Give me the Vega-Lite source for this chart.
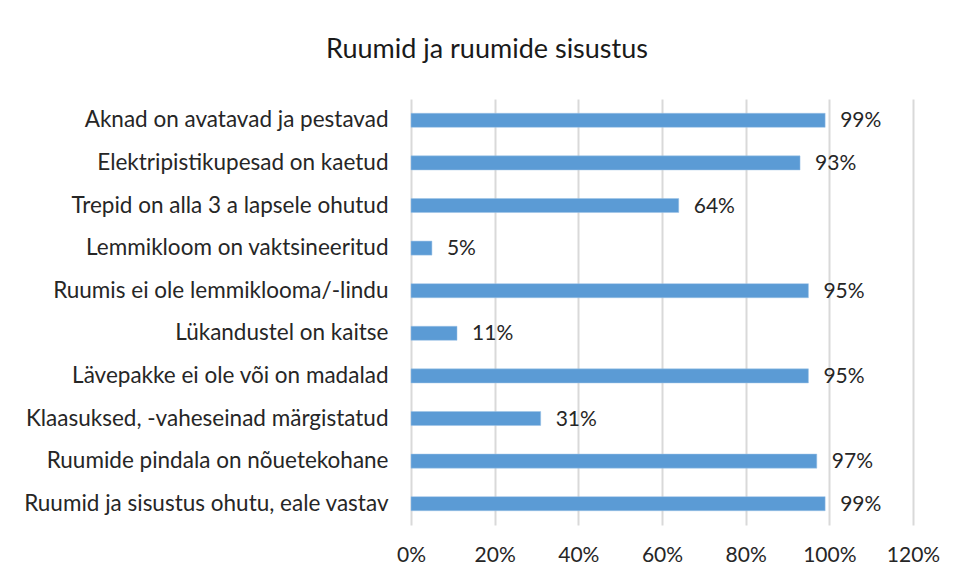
{
  "$schema": "https://vega.github.io/schema/vega-lite/v6.json",
  "width": 502,
  "height": 426,
  "autosize": "none",
  "padding": {"left": 411, "top": 99, "right": 44, "bottom": 52},
  "background": "white",
  "title": {
    "text": "Ruumid ja ruumide sisustus",
    "anchor": "middle",
    "frame": "group",
    "dx": -175,
    "offset": 35,
    "fontSize": 27,
    "font": "Lato",
    "fontWeight": "normal",
    "color": "#1a1a1a"
  },
  "data": {
    "values": [
      {"label": "Aknad on avatavad ja pestavad", "value": 0.99},
      {"label": "Elektripistikupesad on kaetud", "value": 0.93},
      {"label": "Trepid on alla 3 a lapsele ohutud", "value": 0.64},
      {"label": "Lemmikloom on vaktsineeritud", "value": 0.05},
      {"label": "Ruumis ei ole lemmiklooma/-lindu", "value": 0.95},
      {"label": "Lükandustel on kaitse", "value": 0.11},
      {"label": "Lävepakke ei ole või on madalad", "value": 0.95},
      {"label": "Klaasuksed, -vaheseinad märgistatud", "value": 0.31},
      {"label": "Ruumide pindala on nõuetekohane", "value": 0.97},
      {"label": "Ruumid ja sisustus ohutu, eale vastav", "value": 0.99}
    ]
  },
  "encoding": {
    "y": {
      "field": "label",
      "type": "nominal",
      "sort": null,
      "title": null,
      "scale": {"paddingInner": 0.67, "paddingOuter": 0.335},
      "axis": {
        "domain": false,
        "ticks": false,
        "labelPadding": 23,
        "labelFontSize": 22.5,
        "labelFont": "Lato",
        "labelColor": "#262626",
        "labelLimit": 500
      }
    },
    "x": {
      "field": "value",
      "type": "quantitative",
      "title": null,
      "scale": {"domain": [0, 1.2], "nice": false},
      "axis": {
        "values": [0, 0.2, 0.4, 0.6, 0.8, 1.0, 1.2],
        "format": ".0%",
        "domain": false,
        "ticks": false,
        "labelPadding": 19,
        "labelFontSize": 21,
        "labelFont": "Lato",
        "labelColor": "#262626",
        "gridColor": "#d9d9d9",
        "gridWidth": 2,
        "labelFlush": false
      }
    }
  },
  "layer": [
    {"mark": {"type": "bar", "color": "#5b9bd5", "stroke": "#9dc3e6", "strokeWidth": 0.5}},
    {
      "mark": {"type": "text", "align": "left", "dx": 15, "dy": 1, "fontSize": 21, "font": "Lato", "color": "#262626"},
      "encoding": {"text": {"field": "value", "type": "quantitative", "format": ".0%"}}
    }
  ],
  "config": {"view": {"stroke": null}}
}
